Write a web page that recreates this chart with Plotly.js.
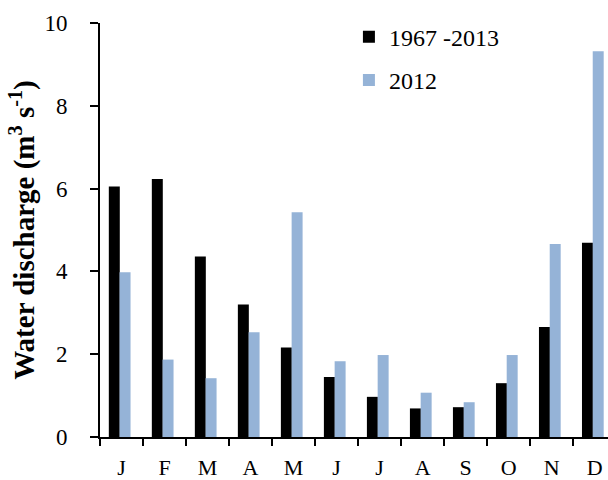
<!DOCTYPE html>
<html>
<head>
<meta charset="utf-8">
<script src="https://cdn.plot.ly/plotly-3.0.1.min.js"></script>
<style>html,body{margin:0;padding:0;background:#fff}#chart{width:608px;height:480px}</style>
</head>
<body>
<div id="chart"></div>
<script>
const categories = ["Jan","Feb","Mar","Apr","May","Jun","Jul","Aug","Sep","Oct","Nov","Dec"];
const tickLabels = ["J","F","M","A","M","J","J","A","S","O","N","D"];
const seriesNames = ["1967 -2013", "2012"];
const meanDischarge = [6.05, 6.23, 4.36, 3.20, 2.16, 1.45, 0.97, 0.69, 0.72, 1.30, 2.66, 4.69];
const discharge2012 = [3.98, 1.87, 1.42, 2.53, 5.43, 1.83, 1.98, 1.07, 0.84, 1.98, 4.66, 9.32];

const FONT = "'Liberation Serif', 'Times New Roman', serif";

const traces = [
  {type: "bar", name: seriesNames[0], x: categories, y: meanDischarge,
   width: 0.255, offset: -0.295,
   marker: {color: "#000000"}, legendgroup: "a"},
  {type: "bar", name: seriesNames[1], x: categories, y: discharge2012,
   width: 0.255, offset: -0.045,
   marker: {color: "#95b3d7"}, legendgroup: "b"}
];

const layout = {
  width: 608, height: 480,
  margin: {l: 100, r: 0, t: 23, b: 43, pad: 0},
  paper_bgcolor: "#fff", plot_bgcolor: "#fff",
  font: {family: FONT, color: "#000"},
  barmode: "group",
  showlegend: true,
  legend: {x: 0.49, y: 1.02, xanchor: "left", yanchor: "top",
           font: {family: FONT, size: 24, color: "#000"},
           bgcolor: "rgba(0,0,0,0)", traceorder: "grouped", tracegroupgap: 9,
           itemwidth: 30},
  xaxis: {type: "category", range: [-0.5, 11.31],
          tickmode: "array", tickvals: categories, ticktext: tickLabels,
          tickson: "boundaries", ticks: "outside", ticklen: 7, tickwidth: 2, tickcolor: "#000",
          showline: true, linecolor: "#000", linewidth: 2,
          showgrid: false, zeroline: false,
          tickfont: {family: FONT, size: 22, color: "#000"},
          ticklabelstandoff: 10},
  yaxis: {range: [0, 10], tickvals: [0,2,4,6,8,10],
          ticks: "outside", ticklen: 8, tickwidth: 2, tickcolor: "#000",
          showline: true, linecolor: "#000", linewidth: 2,
          showgrid: false, zeroline: false,
          tickfont: {family: FONT, size: 23, color: "#000"},
          ticklabelstandoff: 18,
          title: {text: "<b>Water discharge (m<sup>3</sup> s<sup>-1</sup>)</b>",
                  font: {family: FONT, size: 29, color: "#000"}, standoff: 1}}
};

Plotly.newPlot("chart", traces, layout, {staticPlot: true, displayModeBar: false});
</script>
</body>
</html>
